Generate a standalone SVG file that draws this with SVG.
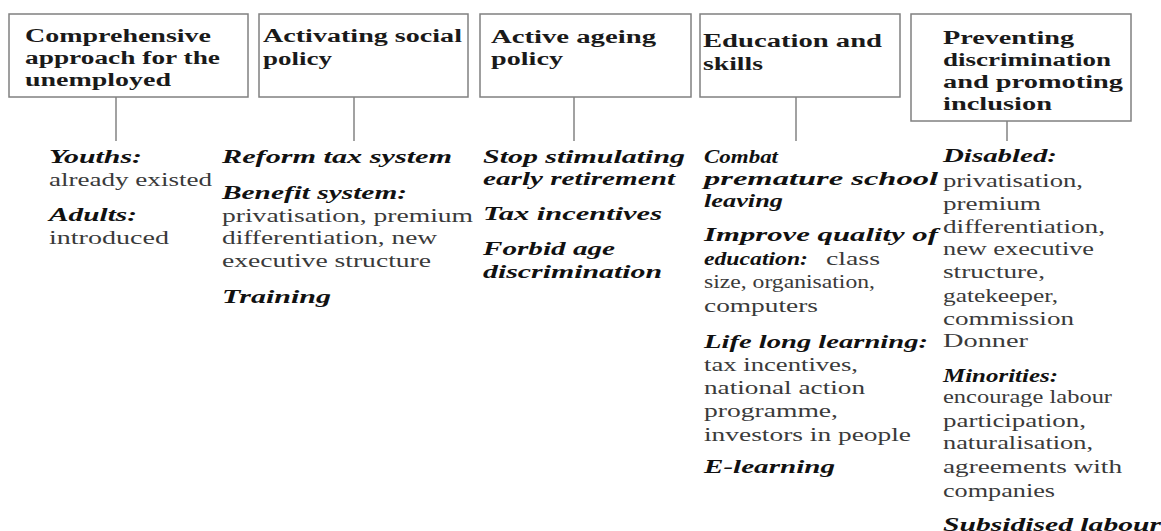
<svg xmlns="http://www.w3.org/2000/svg" width="1161" height="531" viewBox="0 0 1161 531">
<style>
text{font-family:"Liberation Serif","Times New Roman",serif;font-size:18px;}
.h{font-weight:bold;fill:#1a1a1a;}
.b{font-weight:bold;font-style:italic;fill:#111;}
.r{fill:#3a3a3a;}
.box{fill:#fff;stroke:#808080;stroke-width:1.5;}
.con{stroke:#707070;stroke-width:1.3;fill:none;}
</style>
<rect width="1161" height="531" fill="#fff"/>
<g id="connectors">
<line class="con" x1="116" y1="97" x2="116" y2="141"/>
<line class="con" x1="354" y1="97" x2="354" y2="141"/>
<line class="con" x1="574" y1="97" x2="574" y2="141"/>
<line class="con" x1="796" y1="97" x2="796" y2="141"/>
<line class="con" x1="1007" y1="121" x2="1007" y2="141"/>
</g>
<g id="node-unemployed">
<rect class="box" x="9" y="14" width="239" height="83"/>
<text class="h" x="25" y="42" textLength="186" lengthAdjust="spacingAndGlyphs">Comprehensive</text>
<text class="h" x="25" y="64" textLength="195" lengthAdjust="spacingAndGlyphs">approach for the</text>
<text class="h" x="25" y="86" textLength="146" lengthAdjust="spacingAndGlyphs">unemployed</text>
</g>
<g id="list-unemployed">
<text class="b" x="49" y="163" textLength="93" lengthAdjust="spacingAndGlyphs">Youths:</text>
<text class="r" x="49" y="186" textLength="163" lengthAdjust="spacingAndGlyphs">already existed</text>
<text class="b" x="49" y="221" textLength="88" lengthAdjust="spacingAndGlyphs">Adults:</text>
<text class="r" x="49" y="244" textLength="120" lengthAdjust="spacingAndGlyphs">introduced</text>
</g>
<g id="node-social">
<rect class="box" x="259" y="14" width="209" height="83"/>
<text class="h" x="263" y="42" textLength="199" lengthAdjust="spacingAndGlyphs">Activating social</text>
<text class="h" x="263" y="65" textLength="69" lengthAdjust="spacingAndGlyphs">policy</text>
</g>
<g id="list-social">
<text class="b" x="222" y="163" textLength="230" lengthAdjust="spacingAndGlyphs">Reform tax system</text>
<text class="b" x="222" y="199" textLength="185" lengthAdjust="spacingAndGlyphs">Benefit system:</text>
<text class="r" x="222" y="222" textLength="251" lengthAdjust="spacingAndGlyphs">privatisation, premium</text>
<text class="r" x="222" y="244" textLength="215" lengthAdjust="spacingAndGlyphs">differentiation, new</text>
<text class="r" x="222" y="267" textLength="209" lengthAdjust="spacingAndGlyphs">executive structure</text>
<text class="b" x="222" y="303" textLength="109" lengthAdjust="spacingAndGlyphs">Training</text>
</g>
<g id="node-ageing">
<rect class="box" x="480" y="14" width="211" height="83"/>
<text class="h" x="491" y="43" textLength="165" lengthAdjust="spacingAndGlyphs">Active ageing</text>
<text class="h" x="491" y="65" textLength="72" lengthAdjust="spacingAndGlyphs">policy</text>
</g>
<g id="list-ageing">
<text class="b" x="483" y="163" textLength="202" lengthAdjust="spacingAndGlyphs">Stop stimulating</text>
<text class="b" x="483" y="185" textLength="192" lengthAdjust="spacingAndGlyphs">early retirement</text>
<text class="b" x="483" y="220" textLength="179" lengthAdjust="spacingAndGlyphs">Tax incentives</text>
<text class="b" x="483" y="255" textLength="132" lengthAdjust="spacingAndGlyphs">Forbid age</text>
<text class="b" x="483" y="278" textLength="179" lengthAdjust="spacingAndGlyphs">discrimination</text>
</g>
<g id="node-education">
<rect class="box" x="700" y="14" width="200" height="83"/>
<text class="h" x="703" y="47" textLength="179" lengthAdjust="spacingAndGlyphs">Education and</text>
<text class="h" x="703" y="70" textLength="60" lengthAdjust="spacingAndGlyphs">skills</text>
</g>
<g id="list-education">
<text class="b" x="704" y="163" textLength="74" lengthAdjust="spacingAndGlyphs">Combat</text>
<text class="b" x="704" y="185" textLength="234" lengthAdjust="spacingAndGlyphs">premature school</text>
<text class="b" x="704" y="207" textLength="79" lengthAdjust="spacingAndGlyphs">leaving</text>
<text class="b" x="704" y="241" textLength="234" lengthAdjust="spacingAndGlyphs">Improve quality of</text>
<text class="b" x="704" y="265" textLength="104" lengthAdjust="spacingAndGlyphs">education:</text>
<text class="r" x="826" y="265" textLength="54" lengthAdjust="spacingAndGlyphs">class</text>
<text class="r" x="704" y="288" textLength="171" lengthAdjust="spacingAndGlyphs">size, organisation,</text>
<text class="r" x="704" y="312" textLength="114" lengthAdjust="spacingAndGlyphs">computers</text>
<text class="b" x="704" y="348" textLength="224" lengthAdjust="spacingAndGlyphs">Life long learning:</text>
<text class="r" x="704" y="371" textLength="154" lengthAdjust="spacingAndGlyphs">tax incentives,</text>
<text class="r" x="704" y="394" textLength="161" lengthAdjust="spacingAndGlyphs">national action</text>
<text class="r" x="704" y="417" textLength="134" lengthAdjust="spacingAndGlyphs">programme,</text>
<text class="r" x="704" y="441" textLength="207" lengthAdjust="spacingAndGlyphs">investors in people</text>
<text class="b" x="704" y="473" textLength="131" lengthAdjust="spacingAndGlyphs">E-learning</text>
</g>
<g id="node-inclusion">
<rect class="box" x="911" y="14" width="220" height="107"/>
<text class="h" x="943" y="44" textLength="131" lengthAdjust="spacingAndGlyphs">Preventing</text>
<text class="h" x="943" y="66" textLength="168" lengthAdjust="spacingAndGlyphs">discrimination</text>
<text class="h" x="943" y="88" textLength="180" lengthAdjust="spacingAndGlyphs">and promoting</text>
<text class="h" x="943" y="110" textLength="109" lengthAdjust="spacingAndGlyphs">inclusion</text>
</g>
<g id="list-inclusion">
<text class="b" x="943" y="162" textLength="114" lengthAdjust="spacingAndGlyphs">Disabled:</text>
<text class="r" x="943" y="187" textLength="140" lengthAdjust="spacingAndGlyphs">privatisation,</text>
<text class="r" x="943" y="210" textLength="98" lengthAdjust="spacingAndGlyphs">premium</text>
<text class="r" x="943" y="233" textLength="162" lengthAdjust="spacingAndGlyphs">differentiation,</text>
<text class="r" x="943" y="255" textLength="151" lengthAdjust="spacingAndGlyphs">new executive</text>
<text class="r" x="943" y="278" textLength="102" lengthAdjust="spacingAndGlyphs">structure,</text>
<text class="r" x="943" y="302" textLength="115" lengthAdjust="spacingAndGlyphs">gatekeeper,</text>
<text class="r" x="943" y="325" textLength="131" lengthAdjust="spacingAndGlyphs">commission</text>
<text class="r" x="943" y="347" textLength="85" lengthAdjust="spacingAndGlyphs">Donner</text>
<text class="b" x="943" y="382" textLength="115" lengthAdjust="spacingAndGlyphs">Minorities:</text>
<text class="r" x="943" y="403" textLength="169" lengthAdjust="spacingAndGlyphs">encourage labour</text>
<text class="r" x="943" y="427" textLength="143" lengthAdjust="spacingAndGlyphs">participation,</text>
<text class="r" x="943" y="449" textLength="150" lengthAdjust="spacingAndGlyphs">naturalisation,</text>
<text class="r" x="943" y="473" textLength="179" lengthAdjust="spacingAndGlyphs">agreements with</text>
<text class="r" x="943" y="497" textLength="112" lengthAdjust="spacingAndGlyphs">companies</text>
<text class="b" x="943" y="531" textLength="218" lengthAdjust="spacingAndGlyphs">Subsidised labour</text>
</g>
</svg>
